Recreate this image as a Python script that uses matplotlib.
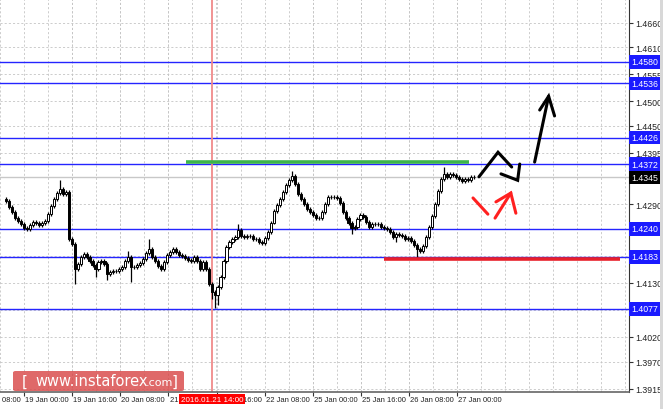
import matplotlib
matplotlib.use("Agg")
import matplotlib.pyplot as plt
import matplotlib.transforms as mtransforms
from matplotlib.patches import FancyBboxPatch, Rectangle

plt.rcParams['font.family'] = ['Liberation Sans Narrow', 'Liberation Sans', 'DejaVu Sans']

# H1 candles (close of each bar, left to right)
first_open = 1.4300
closes = [
    1.4297, 1.4284, 1.4274, 1.4262, 1.4256, 1.4250, 1.4242, 1.4240, 1.4248, 1.4254,
    1.4252, 1.4248, 1.4252, 1.4256, 1.4270, 1.4286, 1.4301, 1.4313, 1.4321, 1.4311,
    1.4315, 1.4219, 1.4209, 1.4158, 1.4168, 1.4183, 1.4189, 1.4183, 1.4175, 1.4166,
    1.4158, 1.4173, 1.4175, 1.4168, 1.4148, 1.4152, 1.4154, 1.4154, 1.4158, 1.4162,
    1.4175, 1.4183, 1.4162, 1.4162, 1.4166, 1.4170, 1.4179, 1.4191, 1.4199, 1.4183,
    1.4175, 1.4164, 1.4158, 1.4173, 1.4187, 1.4193, 1.4199, 1.4193, 1.4187, 1.4185,
    1.4181, 1.4177, 1.4175, 1.4183, 1.4175, 1.4158, 1.4173, 1.4158, 1.4128, 1.4111,
    1.4105, 1.4122, 1.4142, 1.4175, 1.4203, 1.4213, 1.4219, 1.4223, 1.4238, 1.4225,
    1.4223, 1.4225, 1.4225, 1.4219, 1.4219, 1.4213, 1.4211, 1.4221, 1.4234, 1.4252,
    1.4276, 1.4289, 1.4301, 1.4315, 1.4329, 1.4339, 1.4348, 1.4331, 1.4311, 1.4301,
    1.4291, 1.4280, 1.4274, 1.4268, 1.4262, 1.4262, 1.4274, 1.4291, 1.4305, 1.4305,
    1.4305, 1.4303, 1.4293, 1.4274, 1.4262, 1.4252, 1.4242, 1.4244, 1.4260, 1.4268,
    1.4264, 1.4254, 1.4244, 1.4250, 1.4250, 1.4250, 1.4244, 1.4242, 1.4240, 1.4234,
    1.4223, 1.4230, 1.4227, 1.4225, 1.4219, 1.4221, 1.4215, 1.4207, 1.4199, 1.4195,
    1.4205, 1.4223, 1.4244, 1.4266, 1.4291, 1.4317, 1.4341, 1.4352, 1.4346, 1.4352,
    1.4350, 1.4346, 1.4341, 1.4337, 1.4341, 1.4339, 1.4346, 1.4345,
]
spike_hi = {18: 1.4339, 41: 1.4195, 48: 1.4219, 78: 1.4250, 96: 1.4358, 147: 1.4366}
spike_lo = {23: 1.4128, 30: 1.4142, 34: 1.4136, 42: 1.4132, 69: 1.4097,
            70: 1.4080, 71: 1.4085, 90: 1.4250, 116: 1.4230, 131: 1.4213, 138: 1.4178}

levels = [1.4580, 1.4536, 1.4426, 1.4372, 1.4240, 1.4183, 1.4077]
last_price = 1.4345
price_ticks = [1.4660, 1.4610, 1.4555, 1.4500, 1.4450, 1.4395, 1.4345, 1.4290,
               1.4240, 1.4185, 1.4130, 1.4075, 1.4020, 1.3970, 1.3915]
hidden_ticks = [1.4345, 1.4240, 1.4185, 1.4075]

time_ticks = [-10.2, 6.0, 22.2, 38.3, 54.5, 70.7, 86.8, 103.0, 119.2, 135.3, 151.5]
time_labels = ["18 Jan 08:00", "19 Jan 00:00", "19 Jan 16:00", "20 Jan 08:00",
               "21 Jan 00:00", "21 Jan 16:00", "22 Jan 08:00", "25 Jan 00:00",
               "25 Jan 16:00", "26 Jan 08:00", "27 Jan 00:00"]
marker_bar = 69.2
marker_label = "2016.01.21 14:00"

resistance = (60.5, 155.5, 1.4376)
support = (126.8, 206.2, 1.4179)

black_strokes = [
    [(158.8, 1.4346), (165.2, 1.4396), (169.8, 1.4366)],
    [(166.2, 1.4352), (171.8, 1.4339), (172.5, 1.4372)],
    [(177.5, 1.4376), (182.2, 1.4510)],
    [(179.2, 1.4482), (182.2, 1.4510), (184.2, 1.4470)],
]
red_strokes = [
    [(156.8, 1.4303), (161.8, 1.4270)],
    [(164.2, 1.4262), (169.5, 1.4313)],
    [(164.5, 1.4295), (169.5, 1.4313), (171.2, 1.4272)],
]

W, H = 663, 410
fig = plt.figure(figsize=(W / 100, H / 100), dpi=100)
fig.patch.set_facecolor("white")
ax = fig.add_axes([0, 17 / H, 629 / W, 393 / H])
ax.set_xlim(-0.5, 209.2)
ax.set_ylim(1.3908, 1.4708)

# grid
grid_x = [6.0 + 8.08 * k for k in range(-1, 26)]
ax.set_xticks(grid_x, minor=True)
ax.set_xticks(time_ticks[1:])
ax.set_xticklabels([])
ax.tick_params(axis="x", which="minor", length=0)
ax.tick_params(axis="x", which="major", length=3, width=0.8, color="#333333")
ax.set_yticks(price_ticks)
ax.yaxis.tick_right()
ax.set_yticklabels(["" if t in hidden_ticks else f"{t:.4f}" for t in price_ticks],
                   fontsize=6.3, color="#222222")
ax.tick_params(axis="y", length=3, width=0.8, pad=1.2, color="#333333")
ax.grid(True, which="both", color="#c4c4c4", linestyle=(0, (2.5, 2.5)), linewidth=0.6)
ax.set_axisbelow(True)
for s in ["top", "left"]:
    ax.spines[s].set_visible(False)
ax.spines["right"].set_color("#333333")
ax.spines["bottom"].set_color("#666666")
ax.spines["bottom"].set_linewidth(1.2)

# current price line
ax.axhline(last_price, color="#c8c8c8", lw=1.0, zorder=1)

# levels
for lv in levels:
    ax.axhline(lv, color="#2424ff", lw=1.0, zorder=2)

# time marker
ax.axvline(marker_bar, color="#f08a8a", lw=1.3, zorder=2)

# candles
opens = [first_open] + closes[:-1]
for i, (o, c) in enumerate(zip(opens, closes)):
    hi = spike_hi.get(i, max(o, c) + 0.0004)
    lo = spike_lo.get(i, min(o, c) - 0.0004)
    ax.vlines(i, lo, hi, color="black", lw=0.9, zorder=3)
    up = c >= o
    ax.bar(i, max(abs(c - o), 0.00008), bottom=min(o, c), width=0.72,
           color="white" if up else "black", edgecolor="black", lw=0.7, zorder=4)

# resistance / support
ax.plot([resistance[0], resistance[1]], [resistance[2]] * 2, color="#3cb44b", lw=2.6,
        zorder=5, solid_capstyle="butt")
ax.plot([support[0], support[1]], [support[2]] * 2, color="#e8202a", lw=2.6,
        zorder=5, solid_capstyle="butt")

# forecast arrows
for path in black_strokes:
    xs, ys = zip(*path)
    ax.plot(xs, ys, color="black", lw=2.2, zorder=6, solid_capstyle="round",
            solid_joinstyle="miter")
for path in red_strokes:
    xs, ys = zip(*path)
    ax.plot(xs, ys, color="#ff2020", lw=2.2, zorder=6, solid_capstyle="round",
            solid_joinstyle="miter")

# price boxes on the right scale
ytr = mtransforms.blended_transform_factory(ax.transAxes, ax.transData)
for lv in levels:
    ax.text(1.004, lv, f"{lv:.4f}", transform=ytr, ha="left", va="center",
            fontsize=6.3, color="white", clip_on=False, zorder=10,
            bbox=dict(boxstyle="square,pad=0.25", fc="#1a1aff", ec="none"))
ax.text(1.004, last_price, f"{last_price:.4f}", transform=ytr, ha="left", va="center",
        fontsize=6.3, color="white", clip_on=False, zorder=10,
        bbox=dict(boxstyle="square,pad=0.25", fc="black", ec="none"))

# time labels
xtr = ax.get_xaxis_transform()
for t, lab in zip(time_ticks, time_labels):
    ax.text(t + 0.4, -0.018, lab, transform=xtr, ha="left", va="center",
            fontsize=5.5, color="#222222", clip_on=False)
ax.text(marker_bar, -0.018, marker_label, transform=xtr, ha="center", va="center",
        fontsize=5.8, color="white", clip_on=False, zorder=10,
        bbox=dict(boxstyle="square,pad=0.2", fc="#ff0000", ec="none"))

# right edge strip
fig.patches.append(Rectangle((660 / W, 0), 3 / W, 1, transform=fig.transFigure,
                             fc="#d8d8d8", ec="none"))

# watermark
fig.patches.append(FancyBboxPatch((13 / W, 18 / H), 171 / W, 20 / H,
                                  boxstyle="round,pad=0,rounding_size=0.004",
                                  transform=fig.transFigure, fc="#d94848", ec="none",
                                  alpha=0.82, zorder=20))
wm = ['DejaVu Sans']
fig.text(22 / W, 28 / H, "[", color="white", fontsize=11, va="center", ha="left",
         family=wm, zorder=21)
fig.text(35 / W, 28 / H, "www.instaforex", color="white", fontsize=10.5, va="center",
         ha="left", family=wm, zorder=21)
fig.text(146 / W, 27 / H, ".com", color="white", fontsize=8, va="center", ha="left",
         family=wm, zorder=21)
fig.text(172 / W, 28 / H, "]", color="white", fontsize=11, va="center", ha="left",
         family=wm, zorder=21)

fig.savefig("out.png", dpi=100)
